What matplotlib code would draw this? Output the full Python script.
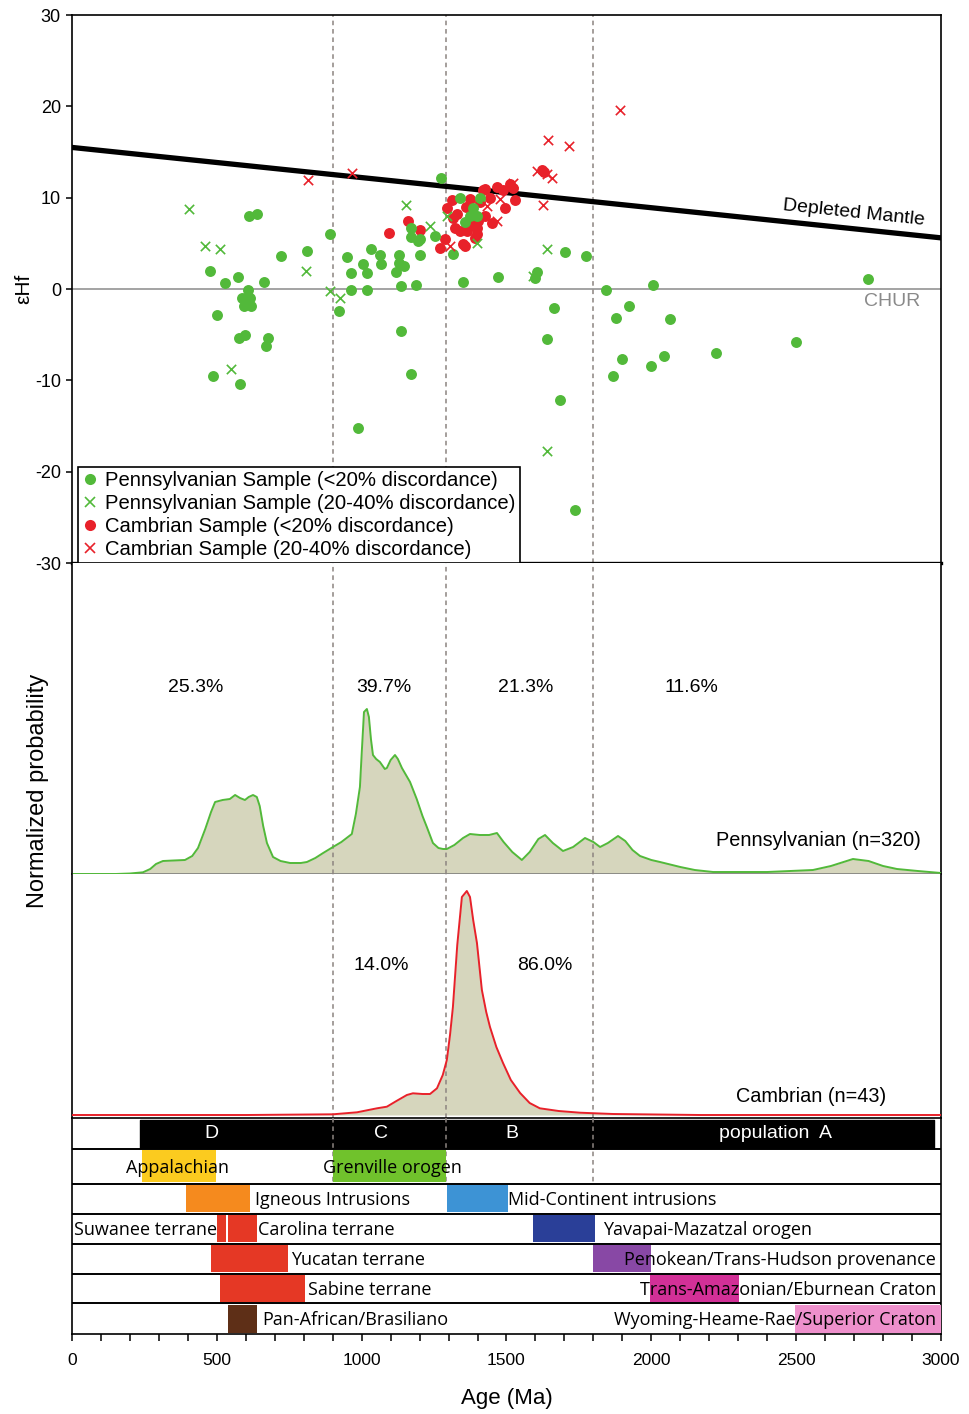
import numpy as np
import matplotlib
matplotlib.use("Agg")
import matplotlib.pyplot as plt
from matplotlib.lines import Line2D

plt.rcParams['font.family'] = ['Liberation Sans', 'DejaVu Sans']
plt.rcParams['axes.unicode_minus'] = False

# ---- eHf data (age Ma, epsilon Hf) ----
penn_conc_age = [1274, 611, 639, 891, 721, 811, 476, 573, 528, 663, 608, 587, 614, 594, 618,
                 501, 597, 576, 677, 670, 487, 580, 921, 949, 963, 1004, 1018, 963, 1018, 1067,
                 1032, 1063, 1118, 1129, 1129, 1136, 1188, 1146, 1136, 1170, 987, 1170, 1170,
                 1201, 1201, 1253, 1350, 1470, 1598, 1605, 1702, 1315, 1339, 1408, 1384, 1374,
                 1357, 1398, 1194, 1774, 1843, 2006, 2748, 1664, 1923, 1878, 2064, 1640, 2499,
                 2223, 1899, 2044, 1999, 1868, 1685, 1736]
penn_conc_ehf = [12.1, 8.0, 8.2, 6.0, 3.6, 4.2, 2.0, 1.3, 0.7, 0.8, -0.1, -1.0, -1.0, -1.9, -1.9,
                 -2.9, -5.0, -5.4, -5.4, -6.2, -9.5, -10.4, -2.4, 3.5, 1.8, 2.7, 1.8, -0.1, -0.1, 2.7,
                 4.4, 3.7, 1.9, 3.7, 2.9, 0.3, 0.4, 2.5, -4.6, -9.3, -15.2, 6.7, 5.7,
                 5.5, 3.7, 5.8, 0.8, 1.3, 1.2, 1.9, 4.1, 3.8, 10.0, 10.0, 8.9, 8.0,
                 7.3, 8.0, 5.3, 3.6, -0.1, 0.4, 1.1, -2.1, -1.9, -3.2, -3.3, -5.5, -5.8,
                 -7.0, -7.7, -7.3, -8.4, -9.5, -12.1, -24.2]

penn_disc_age = [404, 459, 511, 549, 808, 891, 925, 1153, 1236, 1295, 1398, 1640, 1591, 1640]
penn_disc_ehf = [8.8, 4.7, 4.4, -8.8, 2.0, -0.2, -1.0, 9.2, 6.9, 8.0, 5.0, 4.4, 1.4, -17.7]

camb_conc_age = [1094, 1160, 1201, 1270, 1287, 1294, 1311, 1322, 1339, 1350, 1357, 1364, 1391,
                 1398, 1401, 1426, 1443, 1467, 1488, 1512, 1529, 1495, 1450, 1622, 1374, 1426,
                 1315, 1329, 1360, 1410, 1380, 1419, 1522, 1630, 1398]
camb_conc_ehf = [6.1, 7.5, 6.5, 4.5, 5.5, 8.9, 9.7, 6.7, 6.4, 4.9, 4.7, 6.4, 5.6,
                 6.7, 7.5, 11.0, 10.0, 11.2, 10.8, 11.5, 9.7, 8.9, 7.2, 13.0, 9.9, 8.0,
                 7.8, 8.2, 9.0, 9.5, 7.0, 10.8, 11.1, 12.8, 6.0]

camb_disc_age = [815, 967, 1643, 1715, 1892, 1626, 1657, 1640, 1605, 1522, 1467, 1433, 1478, 1305]
camb_disc_ehf = [11.9, 12.7, 16.3, 15.7, 19.6, 9.2, 12.1, 12.6, 12.9, 11.6, 7.5, 9.1, 9.9, 4.7]

dm_age = [0, 3000]
dm_ehf = [15.5, 5.6]

# ---- probability curves (relative) ----
penn_pdp_age = [0, 150, 200, 245, 270, 290, 314, 350, 390, 415, 435, 460, 480, 494, 520, 545,
                563, 580, 597, 610, 625, 638, 648, 660, 673, 694, 720, 753, 790, 811, 840, 867,
                901, 930, 966, 980, 994, 1000, 1008, 1018, 1025, 1032, 1039, 1050, 1063, 1080,
                1087, 1100, 1115, 1125, 1139, 1167, 1190, 1210, 1225, 1246, 1265, 1281, 1294,
                1320, 1350, 1374, 1408, 1440, 1467, 1490, 1520, 1553, 1580, 1610, 1633, 1660,
                1695, 1730, 1771, 1800, 1823, 1850, 1885, 1910, 1935, 1961, 2000, 2030, 2100,
                2150, 2213, 2400, 2558, 2620, 2696, 2750, 2800, 2848, 2920, 3000]
penn_pdp_val = [0, 0, 0.5, 1.7, 5, 10, 13, 13.5, 14, 18, 26, 45, 62, 72, 74, 75,
                79, 76, 74, 77, 79, 77, 68, 48, 31, 17, 13, 11, 11, 12, 16, 21,
                27, 32, 40, 60, 87, 120, 162, 165, 157, 135, 119, 115, 112, 105,
                106, 114, 119, 115, 106, 92, 75, 58, 47, 31, 26, 25, 25,
                29, 36, 40, 39, 39, 41, 32, 22, 14, 22, 35, 39, 31,
                23, 27, 36, 32, 27, 31, 38, 33, 24, 18, 14, 12, 7,
                4, 2, 2, 4, 8, 15, 13, 8, 5, 3, 1]

camb_pdp_age = [0, 603, 901, 984, 1053, 1087, 1120, 1156, 1177, 1210, 1236, 1260, 1280, 1294,
                1305, 1315, 1330, 1346, 1363, 1374, 1385, 1398, 1415, 1430, 1443, 1465, 1488,
                1515, 1547, 1580, 1615, 1680, 1754, 1868, 2168, 3000]
camb_pdp_val = [0, 0, 0.7, 2.7, 6.7, 8.3, 14, 20, 21.7, 21, 21, 26.7, 40, 55,
                80, 108, 170, 218, 224, 218, 195, 172, 125, 103, 88, 68, 52,
                35, 22, 12, 6.7, 4, 2.3, 1, 0, 0]

boundaries = [900, 1290, 1800]
penn_pct = ['25.3%', '39.7%', '21.3%', '11.6%']
camb_pct = ['14.0%', '86.0%']

# ---- source provinces: (row, start Ma, end Ma, colour) ----
populations = ['D', 'C', 'B', 'population  A']
pop_bar = (235, 2976)
provinces = [
    (1, 240, 497, '#FBCB1F'),
    (1, 900, 1290, '#70C22C'),
    (2, 395, 615, '#F58A1E'),
    (2, 1294, 1505, '#3D93D5'),
    (3, 500, 532, '#E53825'),
    (3, 538, 638, '#E53825'),
    (3, 1592, 1806, '#2A3F98'),
    (4, 480, 746, '#E53825'),
    (4, 1799, 1999, '#8848A5'),
    (5, 511, 804, '#E53825'),
    (5, 1996, 2303, '#D23097'),
    (6, 538, 638, '#5E2F17'),
    (6, 2496, 3000, '#EE90CC'),
]
# (row, label, x in Ma, alignment)
province_labels = [
    (1, 'Appalachian', 186, 'left'),
    (1, 'Grenville orogen', 867, 'left'),
    (2, 'Igneous Intrusions', 632, 'left'),
    (2, 'Mid-Continent intrusions', 1505, 'left'),
    (3, 'Suwanee terrane', 7, 'left'),
    (3, 'Carolina terrane', 642, 'left'),
    (3, 'Yavapai-Mazatzal orogen', 1833, 'left'),
    (4, 'Yucatan terrane', 756, 'left'),
    (4, 'Penokean/Trans-Hudson provenance', 2983, 'right'),
    (5, 'Sabine terrane', 815, 'left'),
    (5, 'Trans-Amazonian/Eburnean Craton', 2983, 'right'),
    (6, 'Pan-African/Brasiliano', 656, 'left'),
    (6, 'Wyoming-Heame-Rae/Superior Craton', 2983, 'right'),
]
# row edges of the province table (row units, top to bottom)
row_edges = [0, 1, 2.13, 3.1, 4.07, 5.04, 6.01, 7]

GREEN = '#52B93A'
RED = '#E8212A'
FILL = '#D6D6BD'
DASH = '#8C8480'

W, H = 970, 1414
fig = plt.figure(figsize=(W / 100, H / 100), dpi=100)


def rect(top, bottom):
    return [72 / W, 1 - bottom / H, 869 / W, (bottom - top) / H]


ax1 = fig.add_axes(rect(15, 563))
ax_p = fig.add_axes(rect(563, 874))
ax_c = fig.add_axes(rect(874, 1118))
ax3 = fig.add_axes(rect(1118, 1334))

for ax in (ax1, ax_p, ax_c, ax3):
    ax.set_xlim(0, 3000)
    for s in ax.spines.values():
        s.set_linewidth(1.2)

# ---------------- top panel ----------------
ax1.set_ylim(-30, 30)
ax1.axhline(0, color='#8a8a8a', lw=1.1, zorder=1)
ax1.plot(dm_age, dm_ehf, color='black', lw=3.8, solid_capstyle='round', zorder=2)
for b in boundaries:
    ax1.axvline(b, color=DASH, lw=1.1, ls=(0, (3, 2.5)), zorder=1)
ax1.scatter(camb_conc_age, camb_conc_ehf, s=62, color=RED, lw=0, zorder=3)
ax1.scatter(penn_conc_age, penn_conc_ehf, s=62, color=GREEN, lw=0, zorder=4)
ax1.scatter(penn_disc_age, penn_disc_ehf, s=45, marker='x', color=GREEN, lw=1.2, zorder=5)
ax1.scatter(camb_disc_age, camb_disc_ehf, s=45, marker='x', color=RED, lw=1.2, zorder=5)
ax1.text(2700, 8.3, 'Depleted Mantle', rotation=-6, ha='center', va='center', fontsize=14)
ax1.text(2928, -1.4, 'CHUR', color='#8a8a8a', ha='right', va='center', fontsize=14)
ax1.set_yticks(range(-30, 31, 10))
ax1.set_xticks([])
ax1.tick_params(axis='y', direction='out', length=4, width=1.1, labelsize=13, pad=4)
ax1.spines['bottom'].set_linewidth(2.4)
ax1.set_ylabel('εHf', fontsize=15)
ax1.yaxis.set_label_coords(-0.045, 0.5)

handles = [
    Line2D([], [], ls='', marker='o', ms=8, color=GREEN, mew=0),
    Line2D([], [], ls='', marker='x', ms=7, color=GREEN, mew=1.2),
    Line2D([], [], ls='', marker='o', ms=8, color=RED, mew=0),
    Line2D([], [], ls='', marker='x', ms=7, color=RED, mew=1.2),
]
labels = ['Pennsylvanian Sample (<20% discordance)',
          'Pennsylvanian Sample (20-40% discordance)',
          'Cambrian Sample (<20% discordance)',
          'Cambrian Sample (20-40% discordance)']
leg = ax1.legend(handles, labels, loc='lower left', bbox_to_anchor=(0.007, 0.0),
                 fontsize=14.6, frameon=True, fancybox=False, framealpha=1,
                 edgecolor='black', borderpad=0.2, labelspacing=0.2,
                 handlelength=0.8, handletextpad=0.35, borderaxespad=0)
leg.get_frame().set_linewidth(1.2)

# ---------------- probability panels ----------------
ax_p.set_ylim(0, 311 / 165)
ax_p.fill_between(penn_pdp_age, 0, np.array(penn_pdp_val) / 165, color=FILL, lw=0, zorder=1)
ax_p.plot(penn_pdp_age, np.array(penn_pdp_val) / 165, color=GREEN, lw=1.4, zorder=3)
ax_p.axhline(0, color='#777777', lw=1.1, zorder=2)

ax_c.set_ylim(-3 / 224, 241 / 224)
ax_c.fill_between(camb_pdp_age, 0, np.array(camb_pdp_val) / 224, color=FILL, lw=0, zorder=1)
ax_c.plot(camb_pdp_age, np.array(camb_pdp_val) / 224, color=RED, lw=1.4, zorder=3)

for ax in (ax_p, ax_c):
    ax.set_xticks([])
    ax.set_yticks([])
    ax.spines['top'].set_visible(False)
    ax.spines['bottom'].set_visible(False)
    for b in boundaries:
        ax.axvline(b, color=DASH, lw=1.1, ls=(0, (3, 2.5)), zorder=2)

ax_p.set_ylabel('Normalized probability', fontsize=17)
ax_p.yaxis.set_label_coords(-0.027, 0.267)

for x, t in zip([428, 1077, 1567, 2137], penn_pct):
    ax_p.text(x, 0.6, t, ha='center', va='center', fontsize=14, transform=ax_p.get_xaxis_transform())
ax_p.text(2931, 0.109, 'Pennsylvanian (n=320)', ha='right', va='center', fontsize=14.3,
          transform=ax_p.get_xaxis_transform())
for x, t in zip([1067, 1633], camb_pct):
    ax_c.text(x, 0.624, t, ha='center', va='center', fontsize=14, transform=ax_c.get_xaxis_transform())
ax_c.text(2810, 0.09, 'Cambrian (n=43)', ha='right', va='center', fontsize=14.3,
          transform=ax_c.get_xaxis_transform())

# ---------------- source province rows ----------------
ax3.set_ylim(7, 0)
for e in row_edges[1:-1]:
    ax3.axhline(e, color='black', lw=1.4, zorder=6)
ax3.broken_barh([(pop_bar[0], pop_bar[1] - pop_bar[0])], (0.06, 0.9), color='black', zorder=2)
for row, a0, a1, col in provinces:
    top, bot = row_edges[row], row_edges[row + 1]
    ax3.broken_barh([(a0, a1 - a0)], (top + 0.04, bot - top - 0.08), color=col, lw=0, zorder=4)
ax3.vlines(boundaries, 0, row_edges[2], color=DASH, lw=1.1, ls=(0, (3, 2.5)), zorder=3)
for x, t in zip([483, 1067, 1519, 2430], populations):
    ax3.text(x, 0.5, t, color='white', ha='center', va='center', fontsize=14, zorder=7)
for row, t, x, ha in province_labels:
    yc = (row_edges[row] + row_edges[row + 1]) / 2 + 0.04
    ax3.text(x, yc, t, ha=ha, va='center', fontsize=13, family='Open Sans', zorder=7)

ax3.set_yticks([])
ax3.set_xticks(range(0, 3001, 100), minor=True)
ax3.set_xticks(range(0, 3001, 500))
ax3.tick_params(axis='x', which='both', direction='out', length=5, width=1.1)
ax3.tick_params(axis='x', which='major', labelsize=12.5, pad=9)
ax3.set_xlabel('Age (Ma)', fontsize=16, labelpad=14)

fig.savefig('out.png', dpi=100)
